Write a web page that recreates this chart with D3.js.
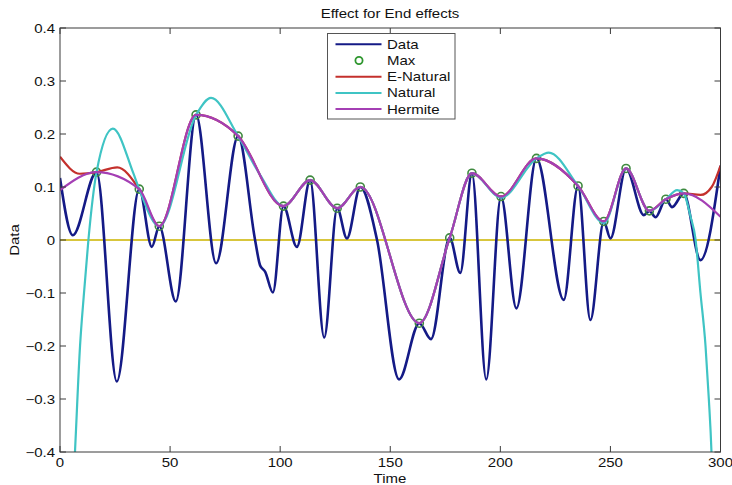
<!DOCTYPE html>
<html>
<head>
<meta charset="utf-8">
<script src="https://cdn.jsdelivr.net/npm/d3@7"></script>
<style>
  html, body { margin: 0; padding: 0; background: #fff; }
  svg { display: block; }
  text { font-family: "Liberation Sans", Arial, sans-serif; fill: #111; }
</style>
</head>
<body>
<svg id="chart" width="732" height="485"></svg>
<script>
// ---- data ----
const title = "Effect for End effects";
const xLabel = "Time";
const yLabel = "Data";
const xTicks = [0, 50, 100, 150, 200, 250, 300];
const yTicks = [-0.4, -0.3, -0.2, -0.1, 0, 0.1, 0.2, 0.3, 0.4];
const legendLabels = ["Data", "Max", "E-Natural", "Natural", "Hermite"];

// signal extrema / key points
const dataT = [0, 5.8, 16.6, 25.8, 36, 41.7, 45.1, 52.6, 61.8, 70.9, 80.9, 88.6, 90.9, 93.2, 96.7, 101.5, 107.6, 113.6, 120, 125.9, 130.3, 136.4, 144, 154, 163.2, 168.5, 177, 181.8, 187.1, 193.6, 200.3, 207.3, 216.4, 228.8, 235.3, 240.9, 247, 250, 257.1, 265.2, 267.7, 270.5, 275.2, 278, 283.3, 290.9, 300];
const dataV = [0.117, 0.009, 0.128, -0.267, 0.096, -0.013, 0.026, -0.116, 0.236, -0.044, 0.196, 0.0, -0.048, -0.060, -0.099, 0.064, -0.013, 0.113, -0.184, 0.060, 0.003, 0.100, 0.0, -0.263, -0.157, -0.187, 0.004, -0.062, 0.126, -0.263, 0.082, -0.129, 0.154, -0.113, 0.102, -0.151, 0.035, 0.003, 0.135, 0.047, 0.055, 0.043, 0.077, 0.062, 0.088, -0.038, 0.140];

// local maxima
const maxT = [16.6, 36, 45.1, 61.8, 80.9, 101.5, 113.6, 125.9, 136.4, 163.2, 177, 187.1, 200.3, 216.4, 235.3, 247, 257.1, 267.7, 275.2, 283.3];
const maxV = [0.128, 0.096, 0.026, 0.236, 0.196, 0.064, 0.113, 0.060, 0.100, -0.157, 0.004, 0.126, 0.082, 0.154, 0.102, 0.035, 0.135, 0.055, 0.077, 0.088];

// envelopes
const eNatT = [0, 9, 16.6, 26, 36, 45.1, 61.8, 80.9, 101.5, 113.6, 125.9, 136.4, 163.2, 177, 187.1, 200.3, 216.4, 235.3, 247, 257.1, 267.7, 275.2, 283.3, 291, 296, 300];
const eNatV = [0.157, 0.125, 0.128, 0.137, 0.096, 0.026, 0.236, 0.196, 0.064, 0.113, 0.060, 0.100, -0.157, 0.004, 0.126, 0.082, 0.154, 0.102, 0.035, 0.135, 0.055, 0.077, 0.088, 0.085, 0.100, 0.140];

const natT = [5.6, 6.8, 9.1, 10.9, 12.9, 16.6, 24, 33.3, 36, 45.1, 61.8, 68.6, 80.9, 91, 101.5, 113.6, 125.9, 136.4, 163.2, 177, 187.1, 200.3, 216.4, 222, 235.3, 247, 257.1, 267.7, 275.2, 280.3, 283.3, 286.4, 288.6, 290.9, 293.2, 294.7, 295.9, 296.6];
const natV = [-0.5, -0.4, -0.2, -0.1, 0.0, 0.128, 0.210, 0.126, 0.096, 0.026, 0.236, 0.268, 0.196, 0.122, 0.064, 0.113, 0.060, 0.100, -0.157, 0.004, 0.126, 0.080, 0.154, 0.165, 0.102, 0.032, 0.135, 0.055, 0.077, 0.094, 0.088, 0.044, 0.003, -0.1, -0.2, -0.3, -0.4, -0.5];

const hermT = [0, 16.6, 36, 45.1, 61.8, 80.9, 101.5, 113.6, 125.9, 136.4, 163.2, 177, 187.1, 200.3, 216.4, 235.3, 247, 257.1, 267.7, 275.2, 283.3, 300];
const hermV = [0.094, 0.128, 0.096, 0.026, 0.236, 0.196, 0.064, 0.113, 0.060, 0.100, -0.157, 0.004, 0.126, 0.082, 0.154, 0.102, 0.035, 0.135, 0.055, 0.077, 0.088, 0.044];

// ---- styling ----
const C = {
  data: "#141a86",
  max: "#3f8a3f",
  eNat: "#c4302c",
  nat: "#3fc4c4",
  herm: "#a43fb4",
  zero: "#d8c63c",
  axis: "#3a3a3a"
};
const SX = 1.2; // horizontal stretch of the reference's text
const FS = 12.5;

const svg = d3.select("#chart");
const x = d3.scaleLinear().domain([0, 300]).range([60, 720.5]);
const y = d3.scaleLinear().domain([-0.4, 0.4]).range([452, 28]);

function txt(g, s, px, py, anchor, rot) {
  const t = g.append("text")
    .attr("transform", `translate(${px},${py})` + (rot ? ` rotate(${rot})` : "") + ` scale(${SX},1)`)
    .attr("text-anchor", anchor || "start")
    .style("font-size", FS + "px")
    .text(s);
  return t;
}

const zip = (ts, vs) => ts.map((t, i) => [t, vs[i]]);

svg.append("defs").append("clipPath").attr("id", "clip")
  .append("rect").attr("x", x(0)).attr("y", y(0.4))
  .attr("width", x(300) - x(0)).attr("height", y(-0.4) - y(0.4));

const plot = svg.append("g").attr("clip-path", "url(#clip)");

const line = d3.line().x(d => x(d[0])).y(d => y(d[1])).curve(d3.curveMonotoneX);

// zero line
plot.append("line")
  .attr("x1", x(0)).attr("x2", x(300)).attr("y1", y(0)).attr("y2", y(0))
  .attr("stroke", C.zero).attr("stroke-width", 2);

// data
plot.append("path").datum(zip(dataT, dataV))
  .attr("d", line).attr("fill", "none")
  .attr("stroke", C.data).attr("stroke-width", 2.6).attr("stroke-linejoin", "round");

// maxima
plot.selectAll("circle.mx").data(zip(maxT, maxV)).join("circle")
  .attr("class", "mx")
  .attr("cx", d => x(d[0])).attr("cy", d => y(d[1])).attr("r", 4)
  .attr("fill", "none").attr("stroke", C.max).attr("stroke-width", 1.6);

// envelopes
[[eNatT, eNatV, C.eNat], [natT, natV, C.nat], [hermT, hermV, C.herm]].forEach(([ts, vs, col]) => {
  plot.append("path").datum(zip(ts, vs))
    .attr("d", line).attr("fill", "none")
    .attr("stroke", col).attr("stroke-width", 2.2).attr("stroke-linejoin", "round");
});

// ---- axes box & ticks (MATLAB style, inward ticks on all sides) ----
const ax = svg.append("g");
ax.append("rect")
  .attr("x", x(0)).attr("y", y(0.4))
  .attr("width", x(300) - x(0)).attr("height", y(-0.4) - y(0.4))
  .attr("fill", "none").attr("stroke", C.axis).attr("stroke-width", 1);

const TL = 6;
xTicks.forEach(t => {
  ax.append("line").attr("x1", x(t)).attr("x2", x(t)).attr("y1", y(-0.4)).attr("y2", y(-0.4) - TL).attr("stroke", C.axis);
  ax.append("line").attr("x1", x(t)).attr("x2", x(t)).attr("y1", y(0.4)).attr("y2", y(0.4) + TL).attr("stroke", C.axis);
  txt(ax, d3.format("")(t), x(t), 467, "middle");
});
yTicks.forEach(v => {
  ax.append("line").attr("x1", x(0)).attr("x2", x(0) + TL).attr("y1", y(v)).attr("y2", y(v)).attr("stroke", C.axis);
  ax.append("line").attr("x1", x(300)).attr("x2", x(300) - TL).attr("y1", y(v)).attr("y2", y(v)).attr("stroke", C.axis);
  const lab = (Math.abs(v) < 1e-9) ? "0" : d3.format(".1f")(v);
  txt(ax, lab, 55, y(v) + 4.5, "end");
});

// labels
txt(svg, title, 390, 18, "middle");
txt(svg, xLabel, 390, 483, "middle");
txt(svg, yLabel, 19, 240, "middle", -90);

// ---- legend ----
const lg = svg.append("g");
lg.append("rect").attr("x", 327.5).attr("y", 33.5).attr("width", 127.5).attr("height", 85.5)
  .attr("fill", "#fff").attr("stroke", "#555").attr("stroke-width", 1);
const legendCols = [C.data, C.max, C.eNat, C.nat, C.herm];
legendLabels.forEach((lab, i) => {
  const yy = 44.3 + i * 16.2;
  if (lab === "Max") {
    lg.append("circle").attr("cx", 359).attr("cy", yy).attr("r", 3.6)
      .attr("fill", "none").attr("stroke", "#2e962e").attr("stroke-width", 1.8);
  } else {
    lg.append("line").attr("x1", 335.5).attr("x2", 381.5).attr("y1", yy).attr("y2", yy)
      .attr("stroke", legendCols[i]).attr("stroke-width", 2);
  }
  txt(lg, lab, 387, yy + 4.5, "start");
});
</script>
</body>
</html>
